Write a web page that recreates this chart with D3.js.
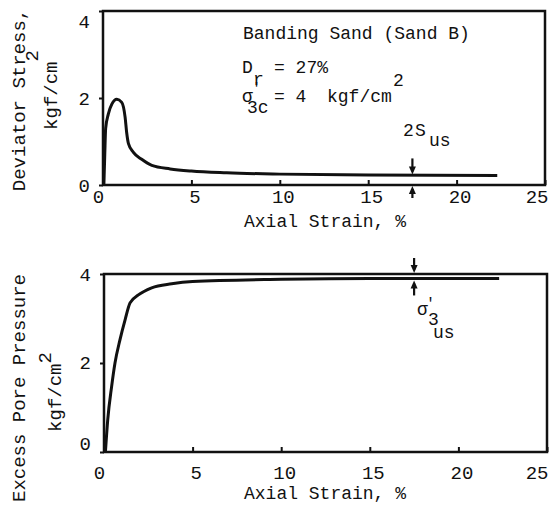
<!DOCTYPE html>
<html><head><meta charset="utf-8">
<script src="https://cdn.jsdelivr.net/npm/d3@7"></script>
<style>
html,body{margin:0;padding:0;background:#fff;}
svg{display:block;}
text{font-family:"Liberation Mono","DejaVu Sans Mono",monospace;fill:#111;}
</style></head>
<body>
<svg id="c" width="549" height="510"></svg>
<script>
// ---- data ----
const xTicks = [0, 5, 10, 15, 20, 25];
const yTicks = [0, 2, 4];
const strainDev = [0.05, 0.1, 0.15, 0.3, 0.5, 0.78, 1.06, 1.25, 1.34, 1.44, 1.72, 2.19, 2.76, 3.8, 5, 7, 10, 15, 22.3];
const deviatorStress = [0, 0.7, 1.3, 1.63, 1.86, 1.97, 1.9, 1.56, 1.2, 0.95, 0.75, 0.59, 0.45, 0.37, 0.32, 0.28, 0.25, 0.23, 0.22];
const strainPore = [0.08, 0.21, 0.43, 0.62, 0.9, 1.19, 1.47, 1.94, 2.69, 3.82, 5, 10, 15, 22.3];
const porePressure = [0, 0.72, 1.47, 2.0, 2.52, 2.97, 3.35, 3.53, 3.69, 3.78, 3.83, 3.88, 3.9, 3.9];
const markStrain = 17.5;   // arrow location
const steadyDev = 0.22;    // 2S_us
const steadyPore = 3.9;    // pore pressure at steady state

const FONT = '"Liberation Mono","DejaVu Sans Mono",monospace';
const svg = d3.select("#c");

function panel(cfg) {
  const x = d3.scaleLinear().domain([0, 25]).range([cfg.x0, cfg.x1]);
  const y = d3.scaleLinear().domain([0, 4]).range([cfg.y0, cfg.y1]);
  const g = svg.append("g");
  g.append("rect").attr("x", cfg.x0).attr("y", cfg.y1)
    .attr("width", cfg.x1 - cfg.x0).attr("height", cfg.y0 - cfg.y1)
    .attr("fill", "none").attr("stroke", "#111").attr("stroke-width", 2.5);
  const xa = g.append("g").attr("transform", `translate(0,${cfg.y0})`)
    .call(d3.axisBottom(x).tickValues(xTicks).tickFormat(d3.format("d"))
      .tickSizeInner(-5).tickSizeOuter(0).tickPadding(0));
  xa.select(".domain").remove();
  xa.selectAll(".tick line").attr("stroke", "#111").attr("stroke-width", 2);
  xa.selectAll(".tick text").attr("dy", null).attr("y", cfg.xLabY)
    .attr("x", d => d === 0 ? -5 : (d === 25 ? 548 - cfg.x1 : 3))
    .attr("text-anchor", d => d === 25 ? "end" : "middle")
    .attr("font-size", 19).attr("fill", "#111").attr("font-family", FONT);
  const ya = g.append("g").attr("transform", `translate(${cfg.x0},0)`)
    .call(d3.axisLeft(y).tickValues(yTicks).tickFormat(d3.format("d"))
      .tickSizeInner(4).tickSizeOuter(0).tickPadding(9));
  ya.select(".domain").remove();
  ya.selectAll(".tick line").attr("stroke", "#111").attr("stroke-width", 2);
  ya.selectAll(".tick text").attr("font-size", 19).attr("fill", "#111").attr("font-family", FONT)
    .attr("transform", d => `translate(0,${cfg.yLabShift[d] || 0})`);
  g.append("text").attr("x", 325).attr("y", cfg.xTitleY)
    .attr("text-anchor", "middle").attr("font-size", 18).text("Axial Strain, %");
  return {x, y, g};
}

const pTop = panel({x0: 103, x1: 545, y0: 185, y1: 11, xLabY: 18, xTitleY: 227,
  yLabShift: {4: 10}});
const pBot = panel({x0: 104, x1: 547, y0: 452, y1: 274, xLabY: 27, xTitleY: 499,
  yLabShift: {0: -9, 2: -1}});

const lineTop = d3.line().x(d => pTop.x(d[0])).y(d => pTop.y(d[1])).curve(d3.curveMonotoneX);
pTop.g.append("path").datum(d3.zip(strainDev, deviatorStress))
  .attr("d", lineTop).attr("fill", "none").attr("stroke", "#111")
  .attr("stroke-width", 3).attr("stroke-linejoin", "round");
const lineBot = d3.line().x(d => pBot.x(d[0])).y(d => pBot.y(d[1])).curve(d3.curveMonotoneX);
pBot.g.append("path").datum(d3.zip(strainPore, porePressure))
  .attr("d", lineBot).attr("fill", "none").attr("stroke", "#111")
  .attr("stroke-width", 3).attr("stroke-linejoin", "round");

function arrow(g, xpos, yFrom, yTo) {
  const dir = yTo > yFrom ? 1 : -1;
  g.append("line").attr("x1", xpos).attr("x2", xpos).attr("y1", yFrom).attr("y2", yTo - dir * 3)
    .attr("stroke", "#111").attr("stroke-width", 2.2);
  g.append("path").attr("d",
    `M${xpos - 3.5},${yTo - dir * 8} L${xpos + 3.5},${yTo - dir * 8} L${xpos},${yTo} Z`)
    .attr("fill", "#111");
}
arrow(pTop.g, pTop.x(markStrain), pTop.y(steadyDev) - 17, pTop.y(steadyDev) - 1);
arrow(pTop.g, pTop.x(markStrain), pTop.y(0) + 13, pTop.y(0) + 1);
arrow(pBot.g, pBot.x(markStrain), pBot.y(4) - 16, pBot.y(4) - 1);
arrow(pBot.g, pBot.x(markStrain), pBot.y(steadyPore) + 17, pBot.y(steadyPore) + 2);

// text with absolutely placed pieces: [text, x, baselineY, size]
function pieces(parts) {
  const t = svg.append("text").attr("font-size", 18);
  parts.forEach(p => {
    const s = t.append("tspan").text(p[0]).attr("x", p[1]).attr("y", p[2]);
    if (p[3]) s.attr("font-size", p[3]);
  });
  return t;
}
// rotated text, relative baseline shifts: [text, dy]
function vtext(xx, yy, size, parts) {
  const t = svg.append("text").attr("x", xx).attr("y", yy).attr("font-size", size)
    .attr("transform", `rotate(-90,${xx},${yy})`).attr("text-anchor", "middle");
  let prev = 0;
  parts.forEach(p => { t.append("tspan").text(p[0]).attr("dy", p[1] - prev); prev = p[1]; });
  return t;
}

pieces([["Banding Sand (Sand B)", 243, 39]]);
pieces([["D", 242, 73], ["r", 253, 85], ["= 27%", 274, 73]]);
pieces([["σ", 242, 102], ["'", 252, 93, 15], ["3c", 247, 113], ["= 4", 274, 102],
        ["kgf/cm", 327, 102], ["2", 393, 86]]);
pieces([["2", 403, 136], ["S", 415, 136], ["us", 429, 146]]);
pieces([["σ", 417, 315], ["'", 426, 308, 15], ["3", 428, 325], ["us", 433, 338]]);

vtext(25, 100, 19, [["Deviator Stress,", 0]]);
vtext(57, 90, 19, [["kgf/cm", 0], ["2", -19]]);
vtext(25, 388, 19, [["Excess Pore Pressure", 0]]);
vtext(61, 392, 19, [["kgf/cm", 0], ["2", -10]]);
</script>
</body></html>
